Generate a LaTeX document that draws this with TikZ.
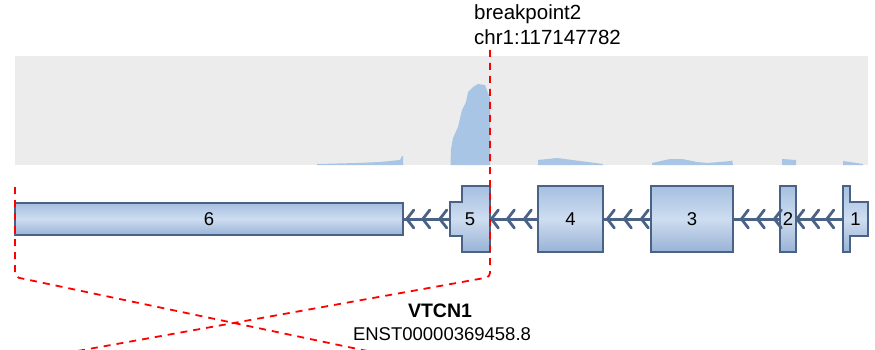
\documentclass[tikz,border=0pt]{standalone}
\usepackage{fontspec}
\setmainfont{Liberation Sans}
\usetikzlibrary{decorations.markings}

\definecolor{exonline}{RGB}{74,98,133}
\definecolor{exontop}{RGB}{166,191,225}
\definecolor{exonmid}{RGB}{206,221,240}
\definecolor{exonbot}{RGB}{152,178,214}
\definecolor{covgray}{RGB}{236,236,236}
\definecolor{covblue}{RGB}{169,197,230}

\newcommand{\chevtip}{\draw[exonline, line width=2.8pt, line cap=round, line join=round] (-7pt,9pt) -- (0,0) -- (-7pt,-9pt);}

\begin{document}
\begin{tikzpicture}[x=1pt,y=-1pt]
\useasboundingbox (0,0) rectangle (875,350);
\clip (0,0) rectangle (875,350);
\tikzstyle{exon}=[draw=exonline, line width=1.3pt, top color=exontop, bottom color=exonbot, middle color=exonmid]
\tikzstyle{exbox}=[exon, inner sep=0pt, minimum height=66pt, font=\fontsize{18.5}{18.5}\selectfont]
\tikzstyle{exlbl}=[inner sep=0pt, font=\fontsize{18.5}{18.5}\selectfont]
\tikzstyle{intron}=[draw=exonline, line width=3pt, postaction={decorate}]
\tikzstyle{brk}=[red, line width=1.8pt, dash pattern=on 7pt off 6pt, rounded corners=4pt]
\tikzset{chevrons/.style n args={3}{decoration={markings,
  mark=at position #1 with {\chevtip}, mark=at position #2 with {\chevtip},
  mark=at position #3 with {\chevtip}}}}

% coverage track
\fill[covgray] (15,56) rectangle (868,165);
\fill[covblue] (317,165) -- (317,164) -- (357,163) -- (380,162) -- (400,160)
  -- (402,156) -- (403,156) -- (403,165) -- cycle;
\fill[covblue] (450.5,165) -- (451,149) -- (453,138) -- (458,127) -- (462,110)
  -- (466,102) -- (468,92) -- (473,87) -- (478,84) -- (485,85) -- (488,93)
  -- (490,98) -- (490,165) -- cycle;
\fill[covblue] (538,165) -- (538,160) -- (557,158) -- (580,161) -- (603,164)
  -- (603,165) -- cycle;
\fill[covblue] (652,165) -- (652,163) -- (670,159) -- (682,159) -- (697,162)
  -- (707,163) -- (731,161) -- (732,160) -- (733,165) -- cycle;
\fill[covblue] (782,165) -- (782,159) -- (796,160) -- (796,165) -- cycle;
\fill[covblue] (843,165) -- (843,161) -- (863,164) -- (863,165) -- cycle;

% exons
\node[exbox, minimum width=388pt, minimum height=32pt] (ex6) at (209,219) {6};
\path[exon] (450,202) -- (462,202) -- (462,186) -- (490,186) -- (490,252)
  -- (462,252) -- (462,236) -- (450,236) -- cycle;
\node[exlbl, minimum width=40pt, minimum height=34pt] (ex5) at (470,219) {5};
\node[exbox, minimum width=65pt] (ex4) at (570.5,219) {4};
\node[exbox, minimum width=82pt] (ex3) at (692,219) {3};
\node[exbox, minimum width=16pt] (ex2) at (788,219) {2};
\path[exon] (843,186) -- (850,186) -- (850,202) -- (868,202) -- (868,236)
  -- (850,236) -- (850,252) -- (843,252) -- cycle;
\node[exlbl, minimum width=25pt, minimum height=34pt] (ex1) at (855.5,219) {1};

% introns
\draw[intron, chevrons={10pt}{27pt}{43pt}] (ex5.west) -- (ex6.east);
\draw[intron, chevrons={13pt}{30pt}{46pt}] (ex4.west) -- (ex5.east);
\draw[intron, chevrons={9pt}{26pt}{43pt}] (ex3.west) -- (ex4.east);
\draw[intron, chevrons={5pt}{22pt}{38pt}] (ex2.west) -- (ex3.east);
\draw[intron, chevrons={16pt}{31pt}{46pt}] (ex1.west) -- (ex2.east);

% labels
\node[anchor=base west, inner sep=0pt, font=\fontsize{20.5}{20.5}\selectfont] (bp2lbl) at (474,20) {breakpoint2};
\node[anchor=base west, inner sep=0pt, font=\fontsize{20.5}{20.5}\selectfont] (bp2pos) at (474,45) {chr1:117147782};
\node[anchor=base, inner sep=0pt, font=\bfseries\fontsize{19.5}{19.5}\selectfont] (gname) at (440,317) {VTCN1};
\node[anchor=base, inner sep=0pt, font=\fontsize{18.5}{18.5}\selectfont] (tname) at (442,340) {ENST00000369458.8};

% breakpoints
\coordinate (bp1top) at (15,187);
\coordinate (bp1bend) at (15,277);
\coordinate (bp1end) at (372,352);
\coordinate (bp2top) at (490,50);
\coordinate (bp2bend) at (490,277);
\coordinate (bp2end) at (72,352);
\draw[brk] (bp1top) -- (bp1bend) -- (bp1end);
\draw[brk] (bp2top) -- (bp2bend) -- (bp2end);
\end{tikzpicture}
\end{document}
